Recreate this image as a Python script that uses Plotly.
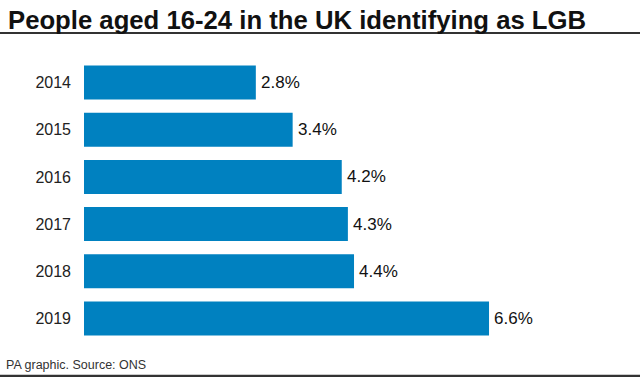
import plotly.graph_objects as go

years = ["2014", "2015", "2016", "2017", "2018", "2019"]
values = [2.8, 3.4, 4.2, 4.3, 4.4, 6.6]
labels = ["2.8%", "3.4%", "4.2%", "4.3%", "4.4%", "6.6%"]

title = "People aged 16-24 in the UK identifying as LGB"
source = "PA graphic. Source: ONS"

W, H = 640, 377
ML, MR, MT, MB = 84, 0, 59, 35
pw = W - ML - MR
ph = H - MT - MB

def px_x(x):
    return (x - ML) / pw

def px_y(y):
    return (H - MB - y) / ph

fig = go.Figure()
fig.add_trace(go.Bar(
    x=values, y=years, orientation="h",
    marker=dict(color="#0081C0", line=dict(width=0)),
    hoverinfo="skip",
))

# value labels (y given as category index so they do not affect the axis range)
for i, (v, t) in enumerate(zip(values, labels)):
    fig.add_annotation(x=v, y=i, text=t, showarrow=False, xanchor="left", yanchor="middle",
                       xshift=3, font=dict(family="Liberation Sans", size=17, color="#111111"))

fig.add_annotation(x=px_x(6), y=px_y(4), xref="paper", yref="paper", xanchor="left", yanchor="top",
                   text="<b>" + title + "</b>", showarrow=False,
                   font=dict(family="Liberation Sans", size=25.7, color="#111111"))
fig.add_annotation(x=px_x(4), y=px_y(365), xref="paper", yref="paper", xanchor="left", yanchor="middle",
                   text=source, showarrow=False,
                   font=dict(family="Liberation Sans", size=12.5, color="#333333"))

fig.update_layout(
    width=W, height=H,
    margin=dict(l=ML, r=MR, t=MT, b=MB, autoexpand=False),
    paper_bgcolor="white", plot_bgcolor="white",
    bargap=0.28,
    showlegend=False,
    xaxis=dict(range=[0, 9.06], visible=False),
    yaxis=dict(type="category", categoryorder="array", categoryarray=years,
               range=[len(years) - 0.5, -0.5],
               showgrid=False, zeroline=False, showline=False,
               ticks="", ticklabelstandoff=12,
               tickfont=dict(family="Liberation Sans", size=16, color="#222222")),
    shapes=[
        dict(type="line", xref="paper", yref="paper", x0=px_x(0), x1=px_x(W), y0=px_y(33), y1=px_y(33),
             line=dict(color="#333333", width=2)),
        dict(type="line", xref="paper", yref="paper", x0=px_x(0), x1=px_x(W), y0=px_y(376), y1=px_y(376),
             line=dict(color="#333333", width=2.5)),
    ],
)

fig.write_html("out.html", config={"displayModeBar": False},
               post_script="document.body.style.margin='0';")
